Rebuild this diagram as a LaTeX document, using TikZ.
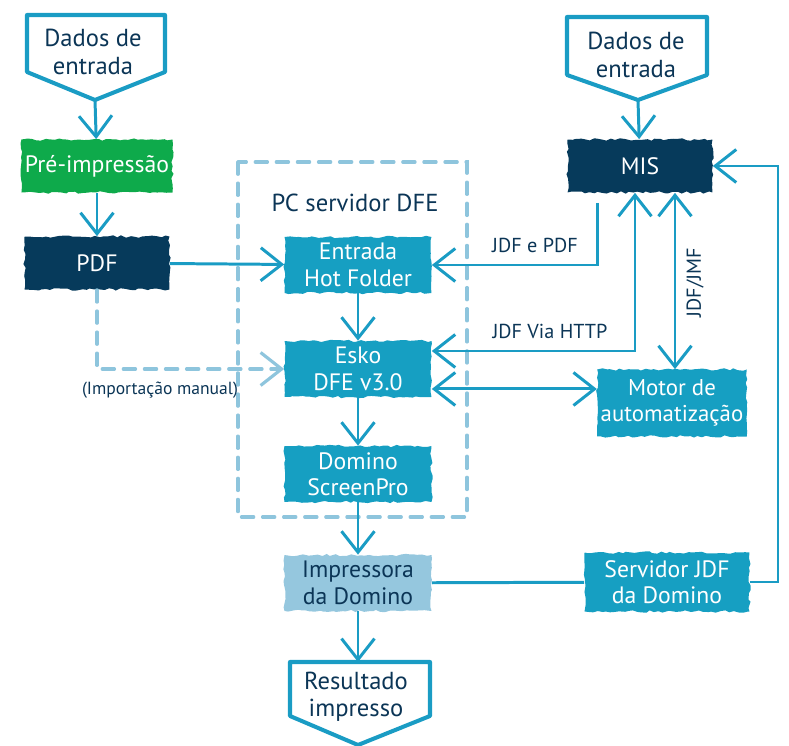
\documentclass[tikz,border=0pt]{standalone}
\usepackage{fontspec}
\setmainfont{PT Sans}
\usepackage{tikz}
\usetikzlibrary{arrows.meta,decorations.pathmorphing}
\pgfdeclarelayer{bg}
\pgfdeclarelayer{fg}
\pgfsetlayers{bg,main,fg}
\definecolor{linha}{HTML}{1A9CC4}
\definecolor{azul}{HTML}{169FC2}
\definecolor{marinho}{HTML}{063A5B}
\definecolor{verde}{HTML}{0EAA4B}
\definecolor{claro}{HTML}{95C7DE}
\definecolor{tracos}{HTML}{8EC5DD}
\definecolor{tinta}{HTML}{0B3556}
\tikzset{
    caixa/.style={rectangle, fill=azul, text=white, align=center, inner sep=2pt,
        minimum width=2.94cm, minimum height=1.12cm, font=\fontsize{13.5}{15}\selectfont,
        decorate, decoration={random steps, segment length=2.5pt, amplitude=0.7pt}},
    entrada/.style={draw=linha, line width=2.3pt, line join=round},
    texto/.style={text=tinta, align=center, font=\fontsize{14}{15.5}\selectfont},
    rotulo/.style={text=tinta, font=\fontsize{11.5}{13}\selectfont},
    ligacao/.style={draw=linha, line width=1.7pt},
    tracejado/.style={draw=tracos, line width=1.8pt, dash pattern=on 7pt off 5pt, line cap=round}
}
\begin{document}
\begin{tikzpicture}[x=0.02cm, y=-0.02cm, >={Straight Barb[length=4.2mm,width=6.6mm]}]
                \useasboundingbox (0,0) rectangle (789,746);
                \begin{pgfonlayer}{bg}
                    \draw[tracejado] (238,162) rectangle (467,517);
                \end{pgfonlayer}
                \draw[entrada] (27,15) -- (165,15) -- (165,72) -- (95,100) -- (27,72) -- cycle;
                \node[texto] (dadosE) at (93,52) {Dados de\\entrada};
                \coordinate (dadosE-ponta) at (95,100);
                \draw[entrada] (567,17) -- (707,17) -- (707,75) -- (638,100) -- (567,75) -- cycle;
                \node[texto] (dadosD) at (636,55) {Dados de\\entrada};
                \coordinate (dadosD-ponta) at (638,100);
                \draw[entrada] (290,662) -- (430,662) -- (430,716) -- (358,745) -- (290,716) -- cycle;
                \node[texto] (resultado) at (356,697) {Resultado\\impresso};
                \coordinate (resultado-topo) at (358,662);

                \node[caixa, fill=verde, minimum width=2.9cm, minimum height=1.06cm] (pre) at (97,166) {Pré-impressão};
                \node[caixa, fill=marinho, minimum width=2.9cm, minimum height=1.06cm] (pdf) at (97,263) {PDF};
                \node[caixa, fill=marinho, minimum width=2.9cm, minimum height=1.06cm] (mis) at (640,166) {MIS};
                \node[texto] (pc) at (355,203) {PC servidor DFE};
                \node[caixa] (hot) at (358,265) {Entrada\\Hot Folder};
                \node[caixa] (esko) at (358,369) {Esko\\DFE v3.0};
                \node[caixa] (domino) at (358,474) {Domino\\ScreenPro};
                \node[caixa, fill=claro, text=tinta] (impressora) at (358,583) {Impressora\\da Domino};
                \node[caixa, minimum width=2.98cm, minimum height=1.34cm, font=\fontsize{13}{15}\selectfont] (motor) at (672,403) {Motor de\\automatização};
                \node[caixa, minimum width=3.3cm, minimum height=1.18cm] (servidor) at (667,582) {Servidor JDF\\da Domino};
                \coordinate (canto) at (778,166);

                \draw[ligacao, ->] (dadosE-ponta) -- (pre);
                \draw[ligacao, ->] (pre) -- (pdf);
                \draw[ligacao, ->] (pdf) -- (hot);
                \draw[tracejado, ->] (pdf.south) |- (esko.west);
                \node[rotulo, font=\fontsize{10}{11}\selectfont] (manual) at (160,390) {(Importação manual)};
                \draw[ligacao, ->] (hot) -- (esko);
                \draw[ligacao, ->] (esko) -- (domino);
                \draw[ligacao, ->] (domino) -- (impressora);
                \draw[ligacao, ->] (impressora) -- (resultado-topo);
                \draw[ligacao, ->] (dadosD-ponta) -- (mis);

                \draw[ligacao, ->] ([xshift=-0.86cm, yshift=-0.2cm]mis.south) |- (hot.east);
                \node[rotulo] (jdfpdf) at (535,245) {JDF e PDF};
                \draw[ligacao, <->] ([yshift=0.36cm]esko.east) -| ([xshift=-0.1cm]mis.south);
                \node[rotulo] (http) at (550,331) {JDF Via HTTP};
                \draw[ligacao, <->] ([yshift=-0.4cm]esko.east) -- ([yshift=-0.4cm]esko.east -| motor.west);
                \draw[ligacao, <->] ([xshift=0.7cm]mis.south) -- ([xshift=0.7cm]mis.south |- motor.north);
                \node[rotulo, rotate=90] (jmf) at (695,283) {JDF/JMF};
                \draw[ligacao] (impressora) -- (servidor);
                \draw[ligacao, ->] (servidor.east) -| (canto) -- (mis.east);
\end{tikzpicture}
\end{document}
